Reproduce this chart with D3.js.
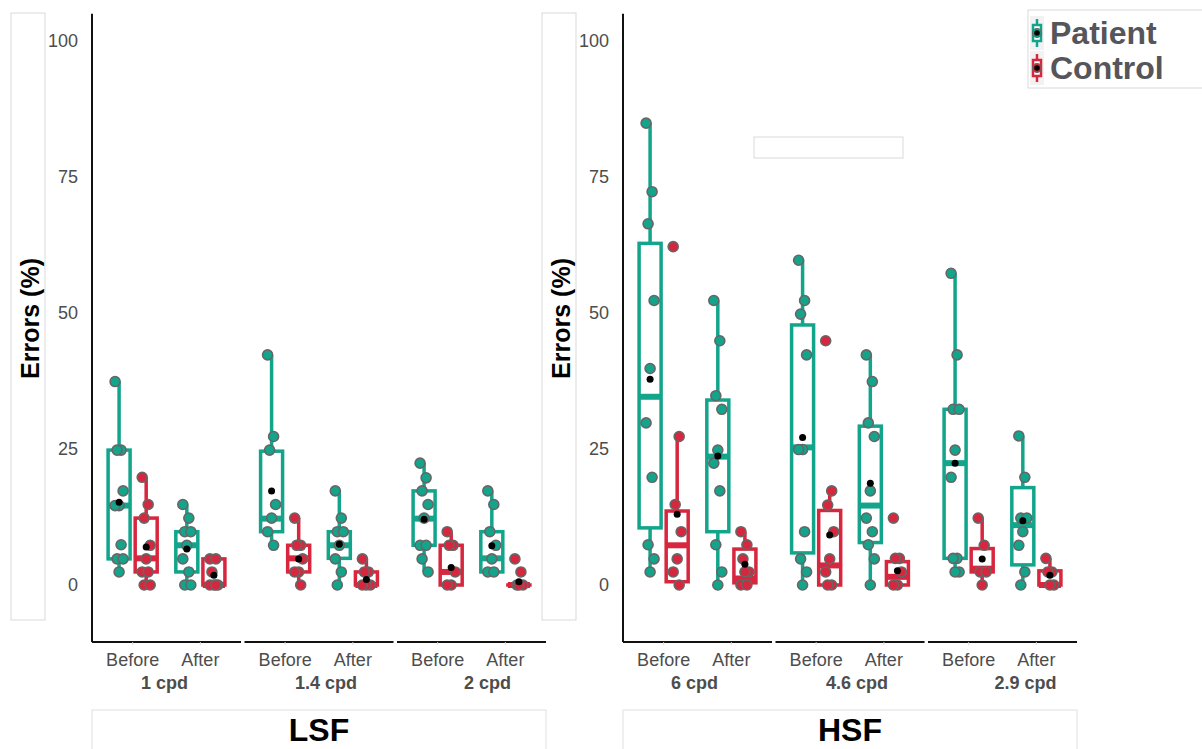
<!DOCTYPE html>
<html>
<head>
<meta charset="utf-8">
<script src="https://cdn.jsdelivr.net/npm/d3@7"></script>
<style>
  body { margin: 0; background: #fff; }
  text { font-family: "Liberation Sans", Arial, sans-serif; }
</style>
</head>
<body>
<script>
// ---- data ----
var panels = ["LSF", "HSF"];
var freqs = [["1 cpd", "1.4 cpd", "2 cpd"], ["6 cpd", "4.6 cpd", "2.9 cpd"]];
var times = ["Before", "After"];
var groups = ["Patient", "Control"];
var yTicks = [0, 25, 50, 75, 100];

// box stats per facet: [time][group] -> [whiskerLo, q1, median, q3, whiskerHi, mean]
var stats = [
  [ // LSF
    [[[2.4, 4.8, 14.6, 24.8, 37.4, 15.2], [0, 2.4, 4.9, 12.3, 19.8, 7.0]],
     [[0, 2.4, 7.3, 9.8, 14.8, 6.6], [0, 0, 0, 4.8, 4.8, 1.8]]],
    [[[7.3, 9.8, 12.2, 24.6, 42.3, 17.3], [0, 2.4, 4.9, 7.3, 12.3, 4.8]],
     [[0, 4.9, 7.3, 9.8, 17.3, 7.5], [0, 0, 0, 2.4, 4.8, 1.0]]],
    [[[2.4, 7.3, 12.2, 17.3, 22.4, 12.1], [0, 0, 2.4, 7.3, 9.8, 3.2]],
     [[2.4, 2.4, 4.9, 9.8, 17.3, 7.2], [0, 0, 0, 0, 0, 0.6]]]
  ],
  [ // HSF
    [[[2.4, 10.5, 34.6, 62.8, 84.9, 37.8], [0, 0.6, 7.3, 13.6, 27.3, 13.0]],
     [[0, 9.8, 23.6, 34.0, 52.3, 23.7], [0, 0.4, 1.2, 6.6, 9.8, 3.8]]],
    [[[0, 5.9, 25.3, 47.8, 59.7, 27.1], [0, 0, 3.6, 13.7, 17.3, 9.2]],
     [[0, 7.8, 14.6, 29.2, 42.3, 18.7], [0, 0, 1.5, 4.3, 4.9, 2.6]]],
    [[[2.4, 4.9, 22.4, 32.3, 57.3, 22.4], [0, 2.4, 3.0, 6.7, 12.3, 4.8]],
     [[0, 3.7, 11.0, 17.9, 27.4, 11.8], [0, 0, 0, 2.6, 4.9, 1.8]]]
  ]
];

// individual subjects: [time][group] -> values
var points = [
  [
    [[37.4, 24.8, 24.8, 17.3, 14.6, 14.6, 7.4, 4.8, 4.8, 2.4], [19.8, 14.8, 12.3, 7.3, 4.8, 2.4, 2.4, 0, 0]],
    [[14.8, 12.3, 9.8, 9.8, 7.3, 4.8, 2.4, 0, 0], [4.8, 4.8, 2.4, 0, 0, 0, 0]],
    [[42.3, 27.3, 24.8, 14.8, 12.3, 9.8, 7.3], [12.3, 7.3, 7.3, 4.8, 2.4, 2.4, 0]],
    [[17.3, 12.3, 9.8, 9.8, 7.3, 4.8, 2.4, 0], [4.8, 2.4, 2.4, 0, 0, 0]],
    [[22.4, 19.7, 17.3, 14.8, 12.3, 7.3, 7.3, 4.8, 2.4], [9.8, 7.3, 7.3, 2.4, 0, 0]],
    [[17.3, 14.8, 9.8, 7.3, 4.8, 2.4, 2.4], [4.8, 2.4, 0, 0, 0]]
  ],
  [
    [[84.9, 72.3, 66.4, 52.3, 39.8, 29.8, 19.8, 7.4, 4.8, 2.4], [62.2, 27.3, 14.8, 9.8, 4.8, 2.4, 0]],
    [[52.3, 44.9, 34.8, 32.3, 24.8, 22.4, 17.3, 7.4, 2.4, 0], [9.8, 7.4, 4.8, 2.4, 2.4, 0, 0]],
    [[59.7, 52.3, 49.8, 42.3, 24.9, 24.9, 9.8, 4.8, 2.4, 0], [44.9, 17.3, 14.7, 9.8, 4.8, 2.4, 0, 0]],
    [[42.3, 37.4, 29.8, 27.3, 17.3, 12.3, 9.8, 7.4, 4.8, 0], [12.3, 4.9, 4.9, 2.4, 0, 0]],
    [[57.3, 42.3, 32.3, 32.3, 24.8, 19.8, 4.9, 4.9, 2.4, 2.4], [12.3, 7.3, 2.4, 2.4, 0]],
    [[27.4, 19.8, 12.3, 12.3, 9.8, 7.3, 2.4, 0], [4.9, 2.4, 2.4, 0, 0]]
  ]
];

// ---- layout ----
var width = 1202, height = 749;
var colors = {Patient: "#12a58b", Control: "#d7263d"};
var panelX = [92, 623];
var facetW = 149, facetGap = 3.5;
var cpdShift = [[-2, 7, 16], [-3, 7, 23]];

var svg = d3.select("body").append("svg")
  .attr("width", width).attr("height", height)
  .style("background", "#fff");

var y = d3.scaleLinear().domain([0, 100]).range([585, 41]);

panels.forEach(function (pname, p) {
  var x0 = panelX[p];
  var g = svg.append("g");

  // empty label boxes left over in the figure
  g.append("rect").attr("x", x0 - 81).attr("y", 13).attr("width", 34).attr("height", 607)
    .attr("fill", "none").attr("stroke", "#d9d9d9");

  g.append("text")
    .attr("transform", "translate(" + (x0 - 62) + "," + y(49) + ") rotate(-90)")
    .attr("text-anchor", "middle").attr("dominant-baseline", "central")
    .attr("font-size", 25).attr("font-weight", "bold").attr("fill", "#000")
    .text("Errors (%)");

  // y axis
  var yAxis = d3.axisLeft(y).tickValues(yTicks).tickSize(0).tickPadding(14);
  var ya = g.append("g").attr("transform", "translate(" + x0 + ",0)").call(yAxis);
  ya.select(".domain").remove();
  ya.selectAll("text").attr("font-size", 18).attr("fill", "#4d4d4d")
    .attr("font-family", "Liberation Sans, Arial, sans-serif");
  g.append("line").attr("x1", x0).attr("x2", x0)
    .attr("y1", y(105)).attr("y2", y(-10.5))
    .attr("stroke", "#111").attr("stroke-width", 2);

  freqs[p].forEach(function (fname, f) {
    var fx = x0 + f * (facetW + facetGap);
    var x = d3.scaleBand().domain(times).range([fx, fx + facetW]).paddingOuter(0.1).paddingInner(0);
    var xs = d3.scaleBand().domain(groups).range([0, x.bandwidth() * 0.8]);
    var baseY = y(-10.5);

    g.append("line").attr("x1", fx).attr("x2", fx + facetW)
      .attr("y1", baseY).attr("y2", baseY)
      .attr("stroke", "#111").attr("stroke-width", 2);

    var xAxis = d3.axisBottom(x).tickSize(3).tickPadding(8);
    var xa = g.append("g").attr("transform", "translate(0," + baseY + ")").call(xAxis);
    xa.select(".domain").remove();
    xa.selectAll("line").attr("stroke", "#ddd");
    xa.selectAll("text").attr("font-size", 18).attr("fill", "#4d4d4d")
      .attr("font-family", "Liberation Sans, Arial, sans-serif");

    g.append("text").attr("x", fx + facetW / 2 + cpdShift[p][f]).attr("y", 689)
      .attr("text-anchor", "middle").attr("font-size", 18).attr("font-weight", "bold")
      .attr("fill", "#4d4d4d").text(fname);

    times.forEach(function (t, ti) {
      groups.forEach(function (gr, gi) {
        var s = stats[p][f][ti][gi];
        var vals = points[p][f * 2 + ti][gi];
        var cx = x(t) + x.bandwidth() * 0.1 + xs(gr) + xs.bandwidth() / 2;
        var bw = 22;
        var col = colors[gr];
        var bg = g.append("g");
        bg.append("line").attr("x1", cx).attr("x2", cx)
          .attr("y1", y(s[3])).attr("y2", y(s[4]))
          .attr("stroke", col).attr("stroke-width", 3.5);
        bg.append("line").attr("x1", cx).attr("x2", cx)
          .attr("y1", y(s[1])).attr("y2", y(s[0]))
          .attr("stroke", col).attr("stroke-width", 3.5);
        bg.append("rect").attr("x", cx - bw / 2).attr("width", bw)
          .attr("y", y(s[3])).attr("height", Math.max(0.01, y(s[1]) - y(s[3])))
          .attr("fill", "#fff").attr("stroke", col).attr("stroke-width", 3.5);
        bg.append("line").attr("x1", cx - bw / 2).attr("x2", cx + bw / 2)
          .attr("y1", y(s[2])).attr("y2", y(s[2]))
          .attr("stroke", col).attr("stroke-width", 6);

        bg.selectAll("circle.pt").data(vals).enter().append("circle")
          .attr("class", "pt")
          .attr("cx", function (d, i) { return cx + ((i * 3) % 5 - 2) * 2; })
          .attr("cy", function (d) { return y(d); })
          .attr("r", 5)
          .attr("fill", col).attr("stroke", "#666").attr("stroke-width", 1.6);

        bg.append("circle").attr("cx", cx).attr("cy", y(s[5])).attr("r", 3.5)
          .attr("fill", "#000");
      });
    });
  });

  // strip at the bottom
  var sx = x0, sw = 3 * facetW + 2 * facetGap;
  g.append("rect").attr("x", sx).attr("y", 710).attr("width", sw).attr("height", 50)
    .attr("fill", "#fff").attr("stroke", "#e0e0e0");
  g.append("text").attr("x", sx + sw / 2).attr("y", 741)
    .attr("text-anchor", "middle").attr("font-size", 32).attr("font-weight", "bold")
    .attr("fill", "#000").text(pname);
});

// stray empty box inside HSF
svg.append("rect").attr("x", 754).attr("y", 137).attr("width", 149).attr("height", 21)
  .attr("fill", "none").attr("stroke", "#d9d9d9");

// legend
var leg = svg.append("g");
leg.append("rect").attr("x", 1028).attr("y", 10).attr("width", 180).attr("height", 78)
  .attr("fill", "#fff").attr("stroke", "#d9d9d9");
groups.forEach(function (gr, i) {
  var ly = 33 + i * 35;
  var k = leg.append("g");
  k.append("rect").attr("x", 1030).attr("y", ly - 17).attr("width", 14).attr("height", 34)
    .attr("fill", "#f2f2f2");
  k.append("line").attr("x1", 1037).attr("x2", 1037).attr("y1", ly - 14).attr("y2", ly + 14)
    .attr("stroke", colors[gr]).attr("stroke-width", 2.5);
  k.append("rect").attr("x", 1033).attr("y", ly - 8).attr("width", 8).attr("height", 16)
    .attr("fill", "#fff").attr("stroke", colors[gr]).attr("stroke-width", 2.5);
  k.append("circle").attr("cx", 1037).attr("cy", ly).attr("r", 4.5)
    .attr("fill", colors[gr]).attr("stroke", "#666").attr("stroke-width", 1.2);
  k.append("circle").attr("cx", 1037).attr("cy", ly).attr("r", 2.8).attr("fill", "#000");
  leg.append("text").attr("x", 1050).attr("y", ly + 11)
    .attr("font-size", 32).attr("font-weight", "bold").attr("fill", "#55555a")
    .text(gr);
});
</script>
</body>
</html>
